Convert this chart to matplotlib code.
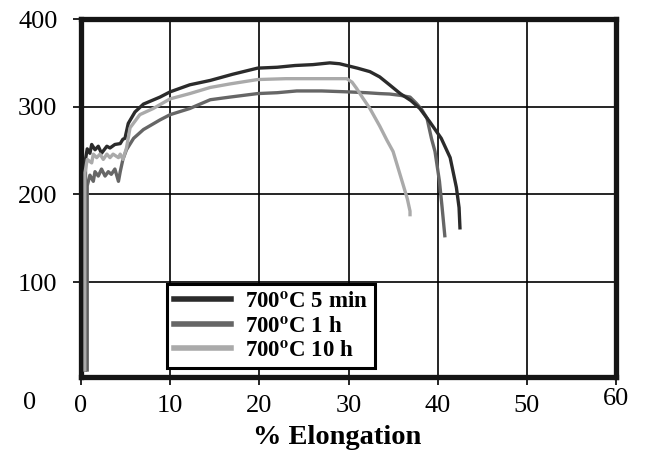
import matplotlib
matplotlib.use('Agg')
import matplotlib.pyplot as plt
import matplotlib.transforms as mtransforms

plt.rcParams['font.family'] = 'Liberation Serif'
plt.rcParams['mathtext.fontset'] = 'stix'

# stress-strain curves, 700C anneal
elong_5min = [0.5, 0.5, 0.7, 1.0, 1.2, 1.57, 1.94, 2.3, 2.9, 3.25, 3.8, 4.4, 4.7, 4.93, 5.3,
              6.05, 7.0, 8.86, 10.0, 12.2, 14.5, 17.0, 19.8, 22.0, 24.0, 26.0, 27.9, 29.0,
              29.8, 31.0, 32.4, 33.5, 34.6, 35.8, 37.0, 38.0, 39.1, 40.4, 41.4, 42.1, 42.4, 42.5]
stress_5min = [0, 240, 252, 247, 257, 251, 255, 247, 255, 253, 257, 258, 263, 264, 281,
               294, 303, 311, 317, 325, 330, 337, 344, 345, 347, 348, 350, 349,
               347, 344, 340, 334, 325, 315, 307, 298, 283, 264, 242, 208, 185, 162]

elong_1h = [0.7, 0.7, 1.0, 1.38, 1.57, 1.94, 2.3, 2.7, 3.06, 3.4, 3.8, 4.2, 4.4, 4.7, 5.1,
            5.9, 7.0, 8.86, 10.0, 12.2, 14.5, 16.7, 19.8, 22.0, 24.2, 27.0, 29.8, 32.0,
            33.5, 34.6, 35.8, 36.9, 37.6, 38.2, 38.8, 39.3, 39.7, 40.2, 40.5, 40.8]
stress_1h = [0, 210, 222, 215, 226, 221, 229, 221, 226, 223, 229, 215, 226, 240, 251,
             264, 274, 285, 291, 298, 308, 311, 315, 316, 318, 318, 317, 316,
             315, 314.5, 313, 311, 304, 297, 287, 264, 249, 215, 185, 153]

elong_10h = [0.45, 0.45, 0.7, 1.2, 1.38, 1.76, 2.13, 2.5, 2.9, 3.25, 3.6, 4.2, 4.4, 4.7, 5.1,
             5.5, 6.6, 8.1, 10.0, 12.2, 14.5, 16.7, 19.8, 23.0, 26.0, 28.5, 29.8, 30.4,
             30.9, 31.6, 32.4, 33.5, 34.3, 35.0, 36.1, 36.6, 36.9, 36.9]
stress_10h = [0, 225, 240, 236, 246, 242, 246, 240, 246, 242, 246, 242, 246, 240, 253,
              276, 291, 298, 309, 315, 322, 326, 331, 332, 332, 332, 332, 328,
              321, 310, 298, 278, 262, 249, 212, 195, 181, 177]

labels = [r'700$^{\mathbf{o}}$C 5 min', r'700$^{\mathbf{o}}$C 1 h', r'700$^{\mathbf{o}}$C 10 h']
colors = ['#2b2b2b', '#666666', '#aaaaaa']

xticks = [0, 10, 20, 30, 40, 50, 60]
yticks = [100, 200, 300, 400]

fig = plt.figure(figsize=(6.47, 4.53), dpi=100)
ax = fig.add_axes([81 / 647, 1 - 377 / 453, 535 / 647, 358 / 453])

l1, = ax.plot(elong_5min, stress_5min, color=colors[0], lw=2.4, zorder=4, label=labels[0])
l2, = ax.plot(elong_1h, stress_1h, color=colors[1], lw=2.4, zorder=3, label=labels[1])
l3, = ax.plot(elong_10h, stress_10h, color=colors[2], lw=2.4, zorder=5, label=labels[2])

ax.set_xlim(0, 60)
ax.set_ylim(-8, 400)
ax.set_xticks(xticks)
ax.set_yticks(yticks)
ax.grid(True, color='black', lw=1.2)
for s in ax.spines.values():
    s.set_linewidth(3.8)
    s.set_color('#151515')
ax.tick_params(direction='out', length=6, width=1.2, labelsize=19, color='black')
ax.tick_params(axis='x', pad=7)
ax.tick_params(axis='y', pad=11)

# the 60 label sits a little higher
for lab in ax.get_xticklabels():
    if lab.get_text() == '60':
        lab.set_transform(lab.get_transform() +
                          mtransforms.ScaledTranslation(0, 5 / 72, fig.dpi_scale_trans))

fig.text(30 / 647, 1 - 403 / 453, '0', fontsize=19, ha='center', va='center')
fig.text(337 / 647, 1 - 438 / 453, '% Elongation', fontsize=20.5, fontweight='bold',
         ha='center', va='center')

leg = ax.legend(handles=[l1, l2, l3], loc='lower left', bbox_to_anchor=(0.161, 0.025),
                fancybox=False, framealpha=1, edgecolor='black', borderaxespad=0,
                handlelength=2.5, handletextpad=0.6, labelspacing=0.15, borderpad=0.3,
                prop={'size': 16.5, 'weight': 'bold'})
leg.get_frame().set_linewidth(2.2)
for h in leg.get_lines():
    h.set_linewidth(4)

fig.savefig('out.png', dpi=100)
